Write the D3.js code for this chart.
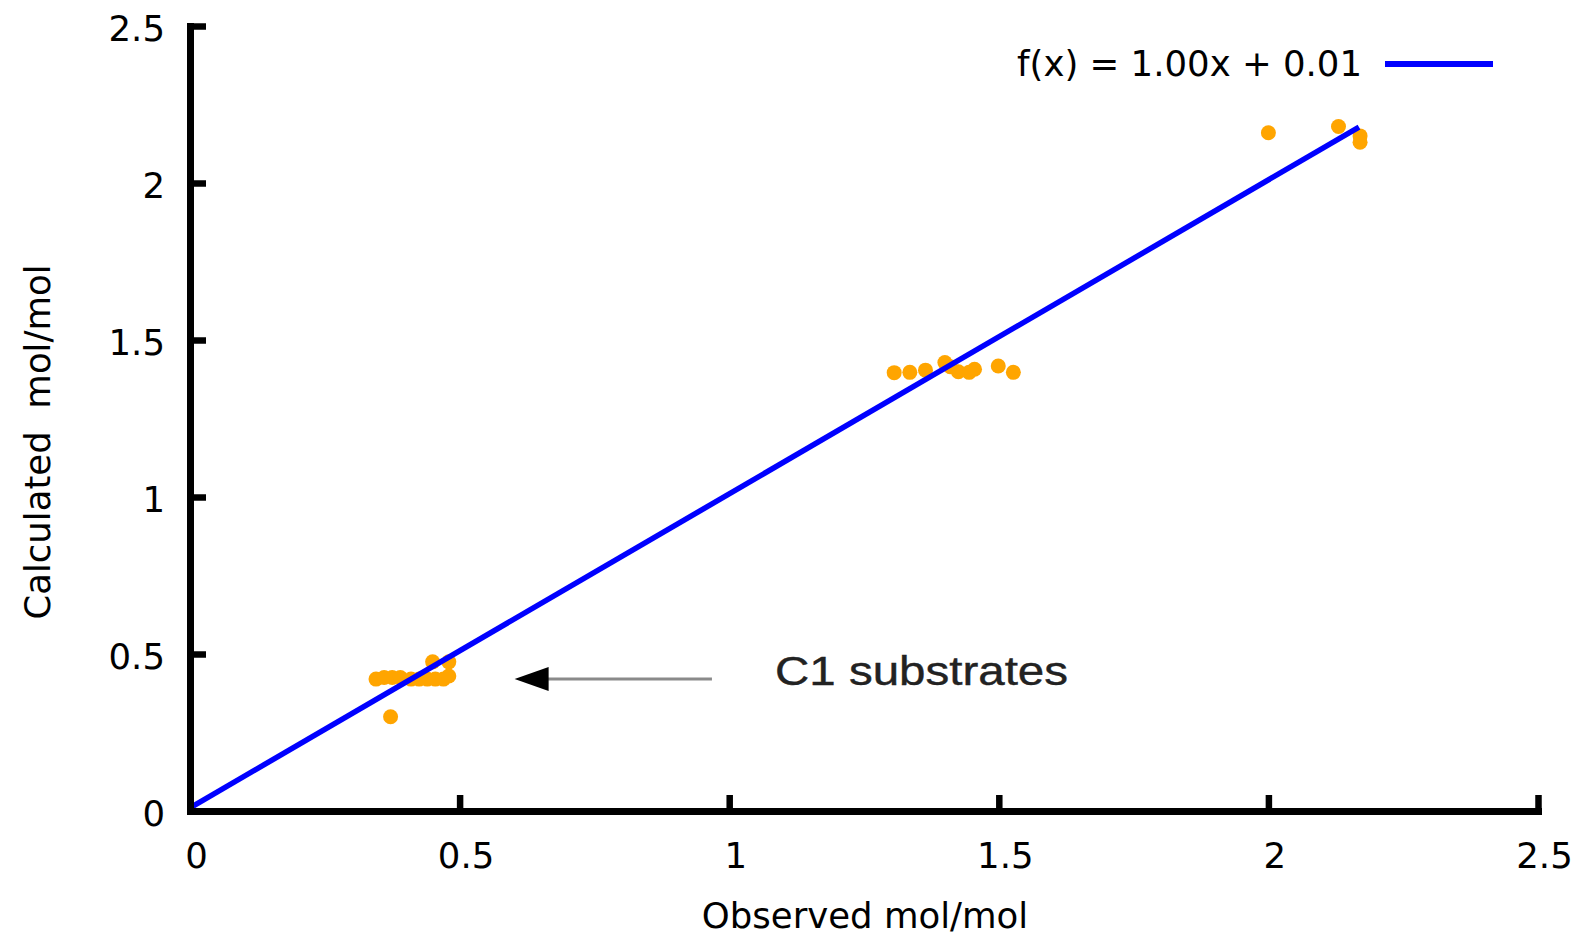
<!DOCTYPE html>
<html>
<head>
<meta charset="utf-8">
<script src="https://cdn.jsdelivr.net/npm/d3@7"></script>
<style>
  html, body { margin: 0; padding: 0; background: #fff; }
  svg { display: block; font-family: "DejaVu Sans", sans-serif; }
</style>
</head>
<body>
<svg id="chart" width="1583" height="937"></svg>
<script>
// ---- data ----
const xTicks = [0, 0.5, 1, 1.5, 2, 2.5];
const yTicks = [0, 0.5, 1, 1.5, 2, 2.5];
const tickLabels = ["0", "0.5", "1", "1.5", "2", "2.5"];

const observed = [
  0.345, 0.36, 0.375, 0.39, 0.41, 0.425, 0.44, 0.455, 0.47, 0.48, 0.45, 0.48, 0.372,
  1.306, 1.335, 1.364, 1.40, 1.41, 1.425, 1.445, 1.455, 1.499, 1.527,
  2.00, 2.13, 2.17, 2.17
];
const calculated = [
  0.42, 0.425, 0.425, 0.425, 0.42, 0.42, 0.42, 0.42, 0.42, 0.43, 0.475, 0.475, 0.30,
  1.396, 1.397, 1.404, 1.428, 1.415, 1.399, 1.397, 1.407, 1.417, 1.397,
  2.16, 2.18, 2.15, 2.13
];

const fitSlope = 1.00, fitIntercept = 0.01;
const fitRange = [0, 2.168];
const legendLabel = "f(x) = 1.00x + 0.01";

const annotationText = "C1 substrates";
const arrowFromX = 0.968, arrowToX = 0.602, arrowY = 0.42;
const annotationX = 1.085, annotationY = 0.401;

const xTitle = "Observed mol/mol";
const yTitle = "Calculated  mol/mol";

// ---- chart ----
const FS = 35.5;
const svg = d3.select("#chart");
const x = d3.scaleLinear().domain([0, 2.5]).range([190, 1538]);
const y = d3.scaleLinear().domain([0, 2.5]).range([811, 26]);

// points
svg.append("g").selectAll("circle")
  .data(observed.map((d, i) => [d, calculated[i]]))
  .join("circle")
  .attr("cx", d => x(d[0]))
  .attr("cy", d => y(d[1]))
  .attr("r", 7.5)
  .attr("fill", "#FFA500");

// fit line
const line = d3.line().x(d => x(d)).y(d => y(fitSlope * d + fitIntercept));
svg.append("path")
  .attr("d", line(fitRange))
  .attr("fill", "none")
  .attr("stroke", "#0000FF")
  .attr("stroke-width", 5.5);

// annotation arrow
svg.append("line")
  .attr("x1", x(arrowFromX)).attr("x2", x(arrowToX) + 33)
  .attr("y1", y(arrowY)).attr("y2", y(arrowY))
  .attr("stroke", "#8a8a8a").attr("stroke-width", 3);
const tipX = x(arrowToX), tipY = y(arrowY);
svg.append("path")
  .attr("d", `M${tipX},${tipY}L${tipX + 34},${tipY - 12}L${tipX + 34},${tipY + 12}Z`)
  .attr("fill", "#000");
svg.append("text")
  .attr("x", x(annotationX)).attr("y", y(annotationY))
  .attr("font-family", "'Liberation Sans', Arial, sans-serif")
  .attr("font-size", 40)
  .attr("fill", "#222")
  .attr("stroke", "#222").attr("stroke-width", 0.4)
  .attr("textLength", 293)
  .attr("lengthAdjust", "spacingAndGlyphs")
  .text(annotationText);

// axes
const xAxis = d3.axisBottom(x).tickValues(xTicks).tickFormat((d, i) => tickLabels[i])
  .tickSizeInner(-16).tickSizeOuter(0).tickPadding(32);
const gx = svg.append("g").attr("transform", `translate(0,${y(0)})`).call(xAxis);
gx.selectAll("text").attr("dx", 6);

const yAxis = d3.axisLeft(y).tickValues(yTicks).tickFormat((d, i) => tickLabels[i])
  .tickSizeInner(-16).tickSizeOuter(0).tickPadding(25);
const gy = svg.append("g").attr("transform", `translate(${x(0)},0)`).call(yAxis);
gy.selectAll("text").attr("dy", "0.42em");

[gx, gy].forEach(g => {
  g.attr("font-family", "'DejaVu Sans', sans-serif").attr("font-size", FS);
  g.select(".domain").attr("stroke", "#000").attr("stroke-width", 7).attr("stroke-linecap", "square");
  g.selectAll(".tick line").attr("stroke", "#000").attr("stroke-width", 6.5);
  g.selectAll(".tick text").attr("fill", "#000");
});

// axis titles
svg.append("text")
  .attr("x", 865).attr("y", 928)
  .attr("text-anchor", "middle")
  .attr("font-size", FS)
  .attr("fill", "#000")
  .text(xTitle);
svg.append("text")
  .attr("transform", "translate(50,442) rotate(-90)")
  .attr("text-anchor", "middle")
  .attr("font-size", FS)
  .attr("fill", "#000")
  .attr("xml:space", "preserve")
  .style("white-space", "pre")
  .text(yTitle);

// legend
svg.append("text")
  .attr("x", 1362).attr("y", 76)
  .attr("text-anchor", "end")
  .attr("font-size", FS)
  .attr("fill", "#000")
  .text(legendLabel);
svg.append("line")
  .attr("x1", 1385).attr("x2", 1493)
  .attr("y1", 64).attr("y2", 64)
  .attr("stroke", "#0000FF").attr("stroke-width", 6);
</script>
</body>
</html>
